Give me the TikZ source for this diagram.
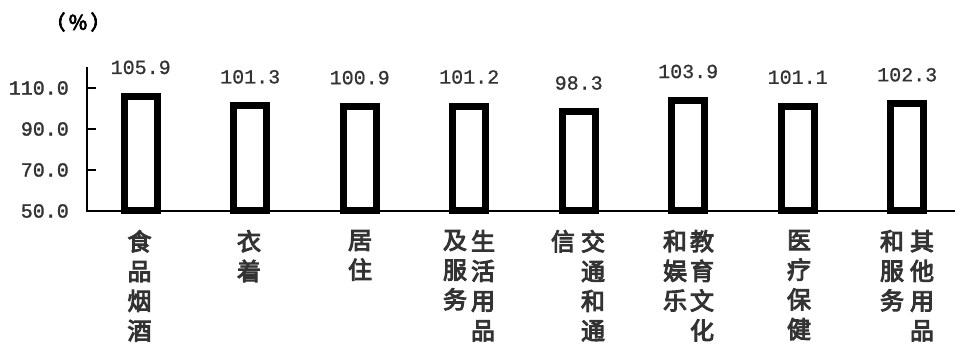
\documentclass[tikz,border=0pt]{standalone}
\usepackage{fontspec}
\newfontfamily\cjk[FakeBold=4]{Noto Sans CJK SC}
\newfontfamily\num[FakeBold=0.8]{Liberation Mono}
\newfontfamily\numb[FakeBold=1.5]{Liberation Mono}
\definecolor{txt}{HTML}{333333}
\begin{document}
\begin{tikzpicture}[x=1pt,y=-1pt,
  bar/.style={draw=black,line width=7pt,fill=white,minimum width=33pt,inner sep=0pt,outer sep=0pt,anchor=south},
  val/.style={text=txt,font=\num\fontsize{20}{20}\selectfont,inner sep=0pt},
  ytl/.style={text=txt,font=\numb\fontsize{20}{20}\selectfont,inner sep=0pt,anchor=east},
  cat/.style={text=txt,font=\cjk\fontsize{24}{29.7}\selectfont,inner sep=0pt,anchor=north,align=center},
  axis/.style={line width=2pt,black}]
\useasboundingbox (0,0) rectangle (955,347);
% axes
\coordinate (ytop) at (87,67.5);
\coordinate (orig) at (87,211);
\coordinate (xend) at (955,211);
\draw[axis] (ytop) -- (orig) -- (xend);
\foreach \v/\n in {110/110.0,90/90.0,70/70.0}{
  \coordinate (t\v) at (87,{211-(\v-50)*2.05});
  \draw[axis] (t\v) -- ++(9,0);
  \node[ytl] (l\v) at ([xshift=-18pt]t\v) {\n};
}
\node[ytl] (l50) at ([xshift=-18pt]orig) {50.0};
\node[text=black,font=\cjk\fontsize{20}{20}\selectfont,inner sep=0pt] (unit) at (78,22) {（\,\%\,）};
% bars
\foreach \i/\v in {0/105.9,1/101.3,2/100.9,3/101.2,4/98.3,5/103.9,6/101.1,7/102.3}{
  \node[bar,minimum height={(\v-50)*2.05pt}] (b\i) at ({140.7+109.5*\i},211) {};
  \node[val] (v\i) at ([yshift=29pt]b\i.north) {\v};
}
% category labels
\node[cat] (c0) at (139.5,230) {食\\品\\烟\\酒};
\node[cat] (c1) at (249,230) {衣\\着};
\node[cat] (c2) at (360,230) {居\\住};
\node[cat] (c3a) at (483,230) {生\\活\\用\\品};
\node[cat] (c3b) at (455,230) {及\\服\\务};
\node[cat] (c4a) at (593,230) {交\\通\\和\\通};
\node[cat] (c4b) at (563,230) {信};
\node[cat] (c5a) at (702,230) {教\\育\\文\\化};
\node[cat] (c5b) at (675,230) {和\\娱\\乐};
\node[cat] (c6) at (799,230) {医\\疗\\保\\健};
\node[cat] (c7a) at (922,230) {其\\他\\用\\品};
\node[cat] (c7b) at (892,230) {和\\服\\务};
\end{tikzpicture}
\end{document}
